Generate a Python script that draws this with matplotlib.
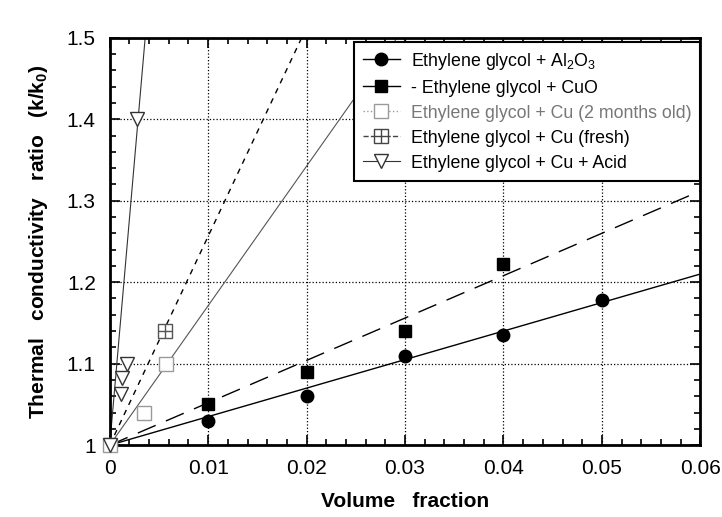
import matplotlib
matplotlib.use('Agg')
import matplotlib.pyplot as plt
from matplotlib.ticker import MultipleLocator

plt.rcParams['font.family'] = ['Liberation Sans', 'DejaVu Sans']
plt.rcParams['mathtext.fontset'] = 'custom'
plt.rcParams['mathtext.rm'] = 'Liberation Sans'
plt.rcParams['mathtext.bf'] = 'Liberation Sans:bold'

# measured points
al_x = [0.01, 0.02, 0.03, 0.04, 0.05]
al_y = [1.03, 1.06, 1.11, 1.135, 1.178]
cuo_x = [0.01, 0.02, 0.03, 0.04]
cuo_y = [1.05, 1.09, 1.14, 1.222]
old_x = [0.0, 0.0035, 0.0057]
old_y = [1.0, 1.04, 1.10]
fresh_x = [0.0056]
fresh_y = [1.14]
acid_x = [0.0, 0.0011, 0.0012, 0.0018, 0.0028]
acid_y = [1.0, 1.063, 1.082, 1.10, 1.40]

# fitted lines (end points)
al_fit_x, al_fit_y = [0.0, 0.06], [1.0, 1.21]
cuo_fit_x, cuo_fit_y = [0.0, 0.06], [1.0, 1.312]
old_fit_x, old_fit_y = [0.0, 0.0292], [1.0, 1.5]
fresh_fit_x, fresh_fit_y = [0.0, 0.0195], [1.0, 1.5]
acid_fit_x, acid_fit_y = [0.0, 0.0036], [1.0, 1.5]

x_ticks = [0, 0.01, 0.02, 0.03, 0.04, 0.05, 0.06]
x_labels = ['0', '0.01', '0.02', '0.03', '0.04', '0.05', '0.06']
y_ticks = [1.0, 1.1, 1.2, 1.3, 1.4, 1.5]
y_labels = ['1', '1.1', '1.2', '1.3', '1.4', '1.5']

fig = plt.figure(figsize=(7.22, 5.17), dpi=100)
ax = fig.add_axes([0.152, 0.139, 0.818, 0.788])

gray = '#9a9a9a'

# fit lines
ax.plot(al_fit_x, al_fit_y, color='black', lw=1.0)
ax.plot(cuo_fit_x, cuo_fit_y, color='black', lw=1.0, dashes=(14, 8))
ax.plot(old_fit_x, old_fit_y, color='#555555', lw=0.8)
ax.plot(fresh_fit_x, fresh_fit_y, color='black', lw=1.0, dashes=(4, 4))
ax.plot(acid_fit_x, acid_fit_y, color='#333333', lw=0.8)

# markers
ax.plot(al_x, al_y, 'o', color='black', ms=9, zorder=5)
ax.plot(cuo_x, cuo_y, 's', color='black', ms=9, zorder=5)
ax.plot(old_x, old_y, 's', mfc='white', mec=gray, mew=1.0, ms=10, zorder=5, clip_on=False)
ax.plot(fresh_x, fresh_y, 's', mfc='white', mec='#555555', mew=1.0, ms=10, zorder=5)
ax.plot(fresh_x, fresh_y, '+', color='#555555', mew=1.0, ms=10, zorder=6)
ax.plot(acid_x, acid_y, 'v', mfc='white', mec='#333333', mew=1.0, ms=10, zorder=5, clip_on=False)

# legend handles
h_al, = ax.plot([], [], '-o', color='black', ms=9, lw=1.0)
h_cuo, = ax.plot([], [], '-s', color='black', ms=9, lw=1.0)
h_old, = ax.plot([], [], ':s', color=gray, mfc='white', mec=gray, ms=10, lw=1.0)
h_fresh_sq, = ax.plot([], [], '--s', color='#444444', mfc='white', mec='#444444', ms=10, lw=1.0)
h_fresh_pl, = ax.plot([], [], '+', color='#444444', mew=1.0, ms=10)
h_acid, = ax.plot([], [], '-v', color='#333333', mfc='white', mec='#333333', ms=10, lw=0.8)
leg = ax.legend([h_al, h_cuo, h_old, (h_fresh_sq, h_fresh_pl), h_acid],
                [r'Ethylene glycol + Al$_2$O$_3$',
                 '- Ethylene glycol + CuO',
                 'Ethylene glycol + Cu (2 months old)',
                 'Ethylene glycol + Cu (fresh)',
                 'Ethylene glycol + Cu + Acid'],
                loc='upper right', bbox_to_anchor=(1.0, 0.99), borderaxespad=0,
                fancybox=False, edgecolor='black', framealpha=1, fontsize=12.8,
                handlelength=2.1, labelspacing=0.45, borderpad=0.5, handletextpad=0.6)
leg.get_frame().set_linewidth(1.5)
leg.set_zorder(10)
for t in leg.get_texts()[2:3]:
    t.set_color('#777777')

ax.set_xlim(0, 0.06)
ax.set_ylim(1.0, 1.5)
ax.set_xticks(x_ticks)
ax.set_xticklabels(x_labels)
ax.set_yticks(y_ticks)
ax.set_yticklabels(y_labels)
ax.xaxis.set_minor_locator(MultipleLocator(0.002))
ax.yaxis.set_minor_locator(MultipleLocator(0.02))
ax.tick_params(which='both', direction='in', top=True, right=True, labelsize=15, width=1.2)
ax.tick_params(which='major', length=7, pad=10)
ax.tick_params(which='minor', length=4)
ax.grid(True, which='major', linestyle=':', color='black', lw=0.9)
for s in ax.spines.values():
    s.set_linewidth(2)

ax.set_xlabel('Volume   fraction', fontsize=15, fontweight='bold', labelpad=10)
ax.set_ylabel(r'Thermal   conductivity   ratio   (k/k$_\mathbf{0}$)',
              fontsize=15, fontweight='bold', labelpad=12)

fig.savefig('out.png', dpi=100)
